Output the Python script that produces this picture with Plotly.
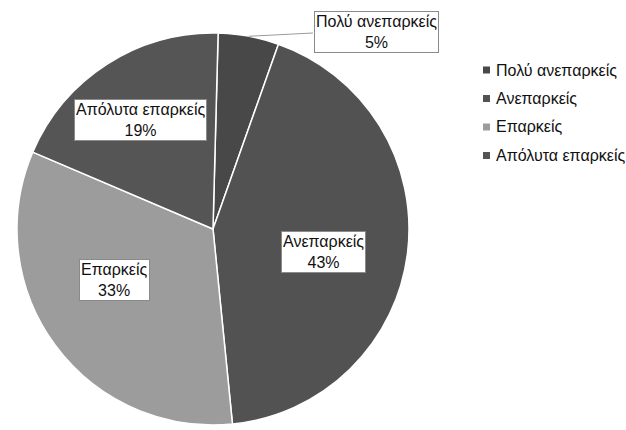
import math
import plotly.graph_objects as go

# Survey answers and their shares (%)
categories = ["Πολύ ανεπαρκείς", "Ανεπαρκείς", "Επαρκείς", "Απόλυτα επαρκείς"]
shares = [5, 43, 33, 19]
colors = ["#484848", "#525252", "#9c9c9c", "#555555"]

W, H = 626, 430
FONT = "Liberation Sans, Arial, sans-serif"
FS = 16

# pie geometry in pixels
cx, cy, r = 213, 229, 196
ROT = 1.5


def px(x):
    return x / W


def py(y):
    return 1 - y / H


fig = go.Figure(
    go.Pie(
        labels=categories,
        values=shares,
        sort=False,
        direction="clockwise",
        rotation=ROT,
        marker=dict(colors=colors, line=dict(color="white", width=1.5)),
        textinfo="none",
        hoverinfo="label+percent",
        showlegend=False,
        domain=dict(x=[px(cx - r), px(cx + r)], y=[py(cy + r), py(cy - r)]),
    )
)

# boxed data labels (pixel centres of each label box)
label_centres = [(376, 32), (323, 252), (114, 280), (140, 120)]
annotations = []
for name, val, (lx, ly) in zip(categories, shares, label_centres):
    annotations.append(
        dict(
            x=px(lx), y=py(ly), xref="paper", yref="paper",
            xanchor="center", yanchor="middle",
            text=f"{name}<br>{val}%", showarrow=False, align="center",
            font=dict(family=FONT, size=FS, color="#111"),
            bgcolor="white", bordercolor="#8a8a8a", borderwidth=1, borderpad=1,
        )
    )

# leader line from the small slice to its outside label
total = sum(shares)
mid = math.radians(ROT + 360 * shares[0] / total / 2)
ex, ey = cx + r * math.sin(mid), cy - r * math.cos(mid)
shapes = [
    dict(type="line", xref="paper", yref="paper",
         x0=px(ex), y0=py(ey), x1=px(313), y1=py(33),
         line=dict(color="#9a9a9a", width=1))
]

# legend on the right: small square swatch + category name
legend_x, legend_y0, legend_dy = 483, 70, 28.5
for i, (name, col) in enumerate(zip(categories, colors)):
    yy = legend_y0 + i * legend_dy
    shapes.append(
        dict(type="rect", xref="paper", yref="paper",
             x0=px(legend_x), x1=px(legend_x + 7), y0=py(yy + 3.5), y1=py(yy - 3.5),
             fillcolor=col, line=dict(width=0))
    )
    annotations.append(
        dict(x=px(legend_x + 11), y=py(yy), xref="paper", yref="paper",
             text=name, showarrow=False, xanchor="left", yanchor="middle",
             font=dict(family=FONT, size=FS, color="#111"))
    )

fig.update_layout(
    width=W, height=H,
    margin=dict(l=0, r=0, t=0, b=0),
    paper_bgcolor="white", plot_bgcolor="white",
    annotations=annotations, shapes=shapes,
)

fig.write_html("out.html")
